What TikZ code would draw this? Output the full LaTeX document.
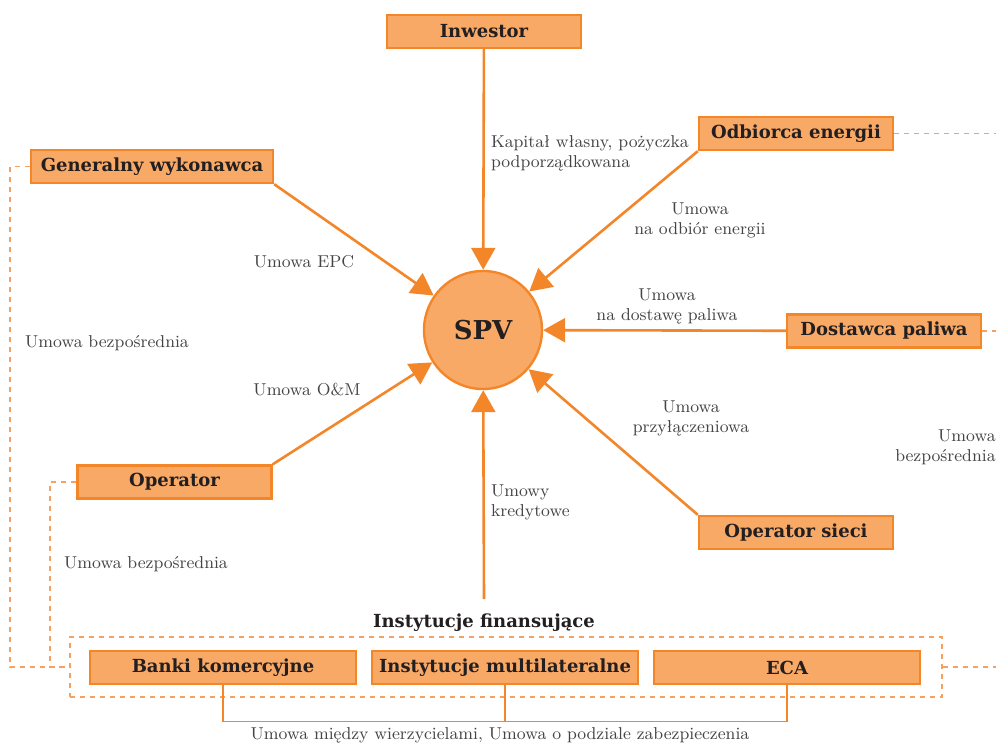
\documentclass[tikz,border=0pt]{standalone}
\usepackage{fontspec}
\usetikzlibrary{arrows.meta}
\newfontfamily\slabfont{DejaVu Serif}
\definecolor{boxfill}{HTML}{F9A966}
\definecolor{boxline}{HTML}{F4862A}
\definecolor{dashline}{HTML}{F6A062}
\definecolor{labeltext}{HTML}{444444}
\definecolor{boxtext}{HTML}{231F20}

\begin{document}
\begin{tikzpicture}[x=0.5pt,y=-0.5pt,
    party/.style={draw=boxline, fill=boxfill, line width=1.2pt, minimum width=97pt,
        minimum height=16.5pt, inner sep=0pt, text=boxtext,
        font=\slabfont\bfseries\fontsize{9}{10}\selectfont},
    bank/.style={party, minimum width=133pt},
    spvnode/.style={circle, draw=boxline, fill=boxfill, line width=1.2pt, minimum size=59pt,
        inner sep=0pt, text=boxtext, font=\slabfont\bfseries\fontsize{13}{16}\selectfont},
    deal/.style={-{Triangle[length=11pt,width=12pt]}, draw=boxline, line width=1.3pt},
    tag/.style={font=\fontsize{8.6}{10}\selectfont, text=labeltext, align=center},
    direct/.style={draw=dashline, line width=0.6pt, dash pattern=on 2.5pt off 2.5pt},
]
    \useasboundingbox (0,0) rectangle (996,744);

    % Financing group
    \node[direct, minimum width=436pt, minimum height=30pt, inner sep=0pt] (grp) at (506,667) {};
    \node[font=\slabfont\bfseries\fontsize{9}{10}\selectfont, text=boxtext] (inst) at (484,623) {Instytucje finansujące};
    \node[bank] (banki) at (223,667.5) {Banki komercyjne};
    \node[bank] (multi) at (505,667.5) {Instytucje multilateralne};
    \node[bank] (eca) at (787,667.5) {ECA};

    % Parties
    \node[party] (inv) at (484,31.5) {Inwestor};
    \node[party] (odb) at (796,133.5) {Odbiorca energii};
    \node[party, minimum width=121pt] (gw) at (152,166.5) {Generalny wykonawca};
    \node[party] (dost) at (884,331) {Dostawca paliwa};
    \node[party] (oper) at (174.5,482) {Operator};
    \node[party] (osieci) at (796,532.5) {Operator sieci};

    % SPV
    \node[spvnode] (spv) at (483,330) {SPV};

    % Contracts with SPV
    \draw[deal] (inv) -- (spv);
    \draw[deal] (gw.south east) -- (spv);
    \draw[deal] (odb.south west) -- (spv);
    \draw[deal] (dost) -- (spv);
    \draw[deal] (oper.north east) -- (spv);
    \draw[deal] (osieci.north west) -- (spv);
    \draw[deal] (inst.north) ++(0,-8) coordinate (instTop) (instTop) -- (spv);

    % Direct agreements
    \coordinate (edgeA) at (996,133.5);
    \coordinate (edgeB) at (996,331);
    \coordinate (edgeC) at (996,667);
    \draw[direct] (gw.west) -- (10,166.5) |- (grp.west);
    \draw[direct] (oper.west) -- (50,482) |- (grp.west);
    \draw[direct] (odb.east) -- (edgeA);
    \draw[direct] (dost.east) -- (edgeB);
    \draw[direct] (grp.east) -- (edgeC);

    % Intercreditor bracket
    \draw[boxline, line width=0.6pt] (banki.south) -- ++(0,36) -| (eca.south);
    \draw[boxline, line width=0.6pt] (multi.south) -- ++(0,36);

    % Labels
    \node[tag, anchor=west, align=left] (lkap) at (484,153) {Kapitał własny, pożyczka\\podporządkowana};
    \node[tag] (lodb) at (700,220) {Umowa\\na odbiór energii};
    \node[tag] (lepc) at (304,262) {Umowa EPC};
    \node[tag] (ldost) at (667,306) {Umowa\\na dostawę paliwa};
    \node[tag] (lbez1) at (107,343) {Umowa bezpośrednia};
    \node[tag] (lom) at (307,390) {Umowa O\&M};
    \node[tag] (lprz) at (691,418) {Umowa\\przyłączeniowa};
    \node[tag, anchor=east, align=right, inner sep=0pt] (lbez2) at (996,447) {Umowa\\bezpośrednia};
    \node[tag, anchor=west, align=left] (lkred) at (484,502) {Umowy\\kredytowe};
    \node[tag] (lbez3) at (146,564) {Umowa bezpośrednia};
    \node[tag] (lwierz) at (500,735) {Umowa między wierzycielami, Umowa o podziale zabezpieczenia};
\end{tikzpicture}
\end{document}
